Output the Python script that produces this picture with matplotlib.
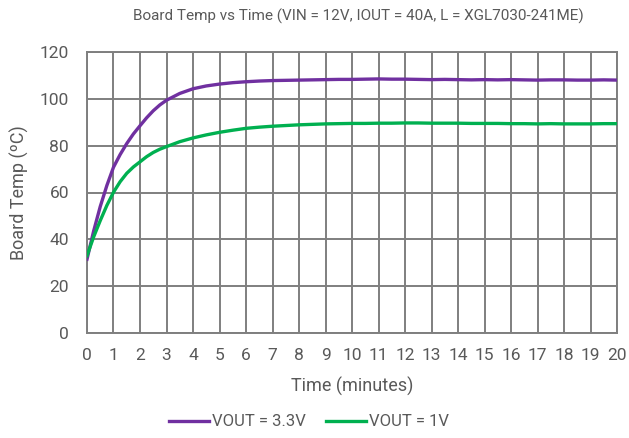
import matplotlib
matplotlib.use("Agg")
import matplotlib.pyplot as plt

plt.rcParams['font.family'] = ['Roboto', 'DejaVu Sans']

title = "Board Temp vs Time (VIN = 12V, IOUT = 40A, L = XGL7030-241ME)"
x_ticks = list(range(0, 21))
y_ticks = [0, 20, 40, 60, 80, 100, 120]

time_min = [0, 0.25, 0.5, 0.75, 1, 1.25, 1.5, 1.75, 2, 2.25, 2.5, 2.75, 3, 3.5, 4, 4.5, 5, 5.5,
            6, 6.5, 7, 7.5, 8, 8.5, 9, 9.5, 10, 10.5, 11, 11.5, 12, 12.5, 13, 13.5, 14, 14.5,
            15, 15.5, 16, 16.5, 17, 17.5, 18, 18.5, 19, 19.5, 20]
vout_33 = [31.5, 43.5, 54, 63, 70.8, 76.2, 80.9, 85, 88.5, 91.9, 94.9, 97.4, 99.4, 102.3, 104.3, 105.5, 106.3, 106.9,
           107.3, 107.6, 107.8, 107.9, 108.0, 108.1, 108.2, 108.3, 108.3, 108.4, 108.5, 108.4, 108.4, 108.3, 108.2, 108.3, 108.2, 108.1,
           108.2, 108.1, 108.2, 108.1, 108.0, 108.1, 108.1, 108.0, 108.0, 108.1, 108.0]
vout_1 = [33, 41, 48, 54.5, 60.1, 64.6, 68.2, 70.9, 73.1, 75.3, 77.1, 78.5, 79.6, 81.7, 83.3, 84.6, 85.7, 86.6,
          87.4, 87.9, 88.3, 88.6, 88.9, 89.1, 89.3, 89.4, 89.5, 89.5, 89.6, 89.6, 89.7, 89.7, 89.6, 89.6, 89.6, 89.5,
          89.5, 89.5, 89.4, 89.4, 89.3, 89.4, 89.3, 89.3, 89.3, 89.4, 89.4]

fig = plt.figure(figsize=(6.29, 4.38), dpi=100)
ax = fig.add_axes([87/629, 1-333/438, (617-87)/629, (333-52)/438])

grid_c = '#7f7f7f'
ax.plot(time_min, vout_33, color='#7030A0', lw=2.4, label='VOUT = 3.3V', zorder=3)
ax.plot(time_min, vout_1, color='#00B050', lw=2.4, label='VOUT = 1V', zorder=3)

ax.set_xlim(0, 20)
ax.set_ylim(0, 120)
ax.set_xticks(x_ticks)
ax.set_yticks(y_ticks)
ax.grid(True, color=grid_c, lw=1.4)
ax.set_axisbelow(True)
for s in ax.spines.values():
    s.set_color(grid_c)
    s.set_linewidth(1.4)
ax.tick_params(axis='y', length=0, labelsize=12.5, colors='#595959', pad=13)
ax.tick_params(axis='x', length=0, labelsize=12.5, colors='#595959', pad=11)

ax.set_xlabel('Time (minutes)', fontsize=13, color='#595959', labelpad=10)
ax.set_ylabel('Board Temp (ºC)', fontsize=13, color='#595959', labelpad=8)
fig.text(358/629, 1-16/438, title, ha='center', va='center', fontsize=11, color='#595959')

leg = fig.legend(loc='center', bbox_to_anchor=(309/629, 1-422/438), ncol=2, frameon=False,
                 fontsize=12, handlelength=2.4, columnspacing=1.2, handletextpad=0.2)
for t in leg.get_texts():
    t.set_color('#595959')

fig.savefig('out.png', dpi=100)
